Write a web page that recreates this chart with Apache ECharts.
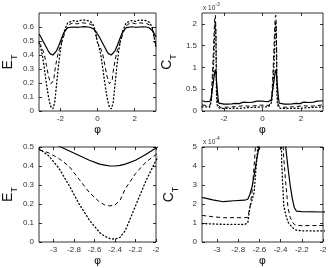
<!DOCTYPE html>
<html><head><meta charset="utf-8">
<script src="https://cdn.jsdelivr.net/npm/echarts@6/dist/echarts.min.js"></script>
<style>html,body{margin:0;padding:0;background:#fff}#c{width:332px;height:268px}</style>
</head><body><div id="c"></div>
<script>
// ---- E_T data (phi in rad) ----
const phiE = [-3.14,-3.05,-2.95,-2.85,-2.75,-2.65,-2.55,-2.50,-2.45,-2.40,-2.35,-2.30,-2.20,-2.10,-2.00,-1.90,-1.80,-1.70,-1.60,-1.50,-1.30,-1.10,-0.90,-0.70,-0.50,-0.35,-0.20,-0.10,
  0.00,0.09,0.19,0.29,0.39,0.49,0.59,0.64,0.69,0.74,0.79,0.84,0.94,1.04,1.14,1.24,1.34,1.44,1.54,1.64,1.84,2.04,2.24,2.44,2.64,2.79,2.94,3.04,3.14];
const eSolid = [.55,.53,.505,.48,.455,.43,.41,.405,.40,.40,.403,.41,.43,.46,.495,.53,.56,.58,.595,.60,.60,.598,.60,.602,.60,.595,.585,.57,
  .55,.53,.505,.48,.455,.43,.41,.405,.40,.40,.403,.41,.43,.46,.495,.53,.56,.58,.595,.60,.602,.598,.60,.601,.60,.593,.575,.555,.53];
const eDashed = [.485,.47,.44,.40,.33,.26,.21,.195,.19,.195,.22,.28,.36,.42,.46,.50,.54,.58,.605,.62,.628,.622,.632,.628,.625,.618,.60,.55,
  .485,.47,.44,.40,.33,.26,.21,.195,.19,.195,.22,.28,.36,.42,.46,.50,.54,.58,.605,.62,.63,.623,.63,.627,.624,.615,.59,.53,.46];
const eDotted = [.49,.455,.39,.30,.20,.115,.05,.03,.018,.015,.025,.06,.19,.32,.43,.51,.565,.60,.63,.64,.645,.64,.648,.65,.645,.635,.61,.56,
  .49,.455,.39,.30,.20,.115,.05,.03,.018,.015,.025,.06,.19,.32,.43,.51,.565,.60,.63,.64,.646,.64,.65,.648,.645,.632,.60,.53,.45];

// ---- C_T data (values in units of 1e-4) ----
const phiC = [-3.14,-3.04,-2.94,-2.84,-2.74,-2.71,-2.69,-2.67,-2.65,-2.63,-2.60,-2.57,-2.54,-2.51,-2.48,-2.45,-2.42,-2.39,-2.37,-2.35,-2.33,-2.31,-2.29,-2.27,-2.25,-2.20,-2.00,-1.80,-1.60,-1.40,-1.30,-1.20,-1.10,-1.00,-0.90,-0.70,-0.50,-0.30,-0.10,
  0.00,0.10,0.20,0.30,0.40,0.43,0.45,0.47,0.49,0.51,0.54,0.57,0.60,0.63,0.66,0.69,0.72,0.75,0.77,0.79,0.81,0.83,0.85,0.87,0.89,0.94,1.14,1.34,1.54,1.74,1.84,1.94,2.04,2.14,2.24,2.44,2.64,2.84,3.04,3.14];
const cSolid = [2.35,2.22,2.12,2.17,2.20,2.25,2.50,2.90,3.50,4.20,5.10,6.00,7.00,8.00,9.00,9.50,8.80,7.00,6.00,4.90,3.90,3.00,2.30,1.80,1.62,1.60,1.58,1.60,1.65,1.75,2.00,1.70,1.80,2.05,1.90,1.95,2.05,2.25,2.30,
  2.35,2.22,2.12,2.17,2.20,2.25,2.50,2.90,3.50,4.20,5.10,6.00,7.00,8.00,9.00,9.50,8.80,7.00,6.00,4.90,3.90,3.00,2.30,1.80,1.62,1.60,1.58,1.60,1.65,1.75,2.00,1.70,1.80,2.05,1.90,1.95,2.05,2.25,2.30,2.40];
const cDashed = [1.40,1.33,1.28,1.28,1.28,1.30,1.80,2.60,4.00,5.60,8.50,11.5,15.0,18.5,21.5,22.0,19.0,6.5,4.4,3.0,1.8,1.3,1.05,0.92,0.88,0.86,0.87,0.90,0.95,1.00,0.80,1.10,0.90,1.20,1.05,1.10,1.15,1.25,1.35,
  1.40,1.33,1.28,1.28,1.28,1.30,1.80,2.60,4.00,5.60,8.50,11.5,15.0,18.5,21.5,22.0,19.0,6.5,4.4,3.0,1.8,1.3,1.05,0.92,0.88,0.86,0.87,0.90,0.95,1.00,0.80,1.10,0.90,1.20,1.05,1.10,1.15,1.25,1.35,1.45];
const cDotted = [0.97,0.95,0.93,0.93,0.92,1.00,1.80,2.20,2.60,4.00,6.00,8.50,11.0,14.5,18.5,20.5,17.0,4.2,1.9,1.4,1.05,0.90,0.77,0.68,0.62,0.59,0.58,0.60,0.62,0.65,0.90,0.60,0.75,0.70,0.80,0.78,0.82,0.88,0.93,
  0.97,0.95,0.93,0.93,0.92,1.00,1.80,2.20,2.60,4.00,6.00,8.50,11.0,14.5,18.5,20.5,17.0,4.2,1.9,1.4,1.05,0.90,0.77,0.68,0.62,0.59,0.58,0.60,0.62,0.65,0.90,0.60,0.75,0.70,0.80,0.78,0.82,0.88,0.93,1.00];

// ---- ticks ----
const xTicksFull = [-2, 0, 2];
const xTicksZoom = [-3, -2.8, -2.6, -2.4, -2.2, -2];
const yTicksE = [0, 0.1, 0.2, 0.3, 0.4, 0.5, 0.6];
const yTicksEZoom = [0, 0.1, 0.2, 0.3, 0.4, 0.5];
const yTicksC = [0, 5, 10, 15, 20];
const yLabelsC = ['0', '0.5', '1', '1.5', '2'];
const yTicksCZoom = [0, 1, 2, 3, 4, 5];

const zip = (xs, ys) => xs.map((x, i) => [x, ys[i]]);
const FONT = 'Liberation Sans, Arial, sans-serif';
const fmtNum = v => String(Math.round(v * 10) / 10);

const panels = [
  {left: 32, top: 13, width: 124, height: 98, xmin: -Math.PI, xmax: Math.PI, ymin: 0, ymax: 0.7, xt: xTicksFull, yt: yTicksE, yfmt: fmtNum, name: 'E', xs: phiE, S: eSolid, D: eDashed, P: eDotted, gap: 20},
  {left: 202, top: 13, width: 121, height: 98, xmin: -Math.PI, xmax: Math.PI, ymin: 0, ymax: 22.5, xt: xTicksFull, yt: yTicksC, yfmt: v => yLabelsC[yTicksC.indexOf(v)], name: 'C', xs: phiC, S: cSolid, D: cDashed, P: cDotted, gap: 24},
  {left: 32, top: 147, width: 124, height: 98, xmin: -Math.PI, xmax: -2, ymin: 0, ymax: 0.5, xt: xTicksZoom, yt: yTicksEZoom, yfmt: fmtNum, name: 'E', xs: phiE, S: eSolid, D: eDashed, P: eDotted, gap: 20},
  {left: 202, top: 147, width: 121, height: 98, xmin: -Math.PI, xmax: -2, ymin: 0, ymax: 5, xt: xTicksZoom, yt: yTicksCZoom, yfmt: v => String(v), name: 'C', xs: phiC, S: cSolid, D: cDashed, P: cDotted, gap: 22}
];

const grid = [], xAxis = [], yAxis = [], series = [];
panels.forEach((p, i) => {
  grid.push({left: p.left, top: p.top, width: p.width, height: p.height, show: true, borderColor: '#000', borderWidth: 0.8, backgroundColor: '#fff', containLabel: false});
  const tick = vals => ({show: true, inside: true, length: 3, customValues: vals, lineStyle: {color: '#000', width: 0.8}});
  const line = {show: false, onZero: false};
  xAxis.push({type: 'value', gridIndex: i, min: p.xmin, max: p.xmax, position: 'bottom',
    axisLine: line, splitLine: {show: false}, axisTick: tick(p.xt),
    axisLabel: {show: true, customValues: p.xt, formatter: fmtNum, fontSize: 8, color: '#333', fontFamily: FONT, margin: 4},
    name: 'φ', nameLocation: 'middle', nameGap: 14, nameTextStyle: {fontSize: 11, color: '#111', fontFamily: 'DejaVu Sans'}});
  xAxis.push({type: 'value', gridIndex: i, min: p.xmin, max: p.xmax, position: 'top',
    axisLine: line, splitLine: {show: false}, axisTick: tick(p.xt), axisLabel: {show: false}});
  yAxis.push({type: 'value', gridIndex: i, min: p.ymin, max: p.ymax, position: 'left',
    axisLine: line, splitLine: {show: false}, axisTick: tick(p.yt),
    axisLabel: {show: true, customValues: p.yt, formatter: p.yfmt, fontSize: 8, color: '#333', fontFamily: FONT, margin: 5},
    name: '{a|' + p.name + '}{b|T}', nameLocation: 'middle', nameGap: p.gap, nameRotate: 90,
    nameTextStyle: {rich: {a: {fontSize: 14, color: '#111', fontFamily: FONT, verticalAlign: 'top', padding: [0, 0, 4, 0]}, b: {fontSize: 9, color: '#111', fontFamily: FONT, verticalAlign: 'bottom'}}}});
  yAxis.push({type: 'value', gridIndex: i, min: p.ymin, max: p.ymax, position: 'right',
    axisLine: line, splitLine: {show: false}, axisTick: tick(p.yt), axisLabel: {show: false}});
  const base = {type: 'line', xAxisIndex: 2 * i, yAxisIndex: 2 * i, showSymbol: false, symbol: 'none', clip: true, animation: false, silent: true};
  series.push(Object.assign({}, base, {data: zip(p.xs, p.S), lineStyle: {color: '#000', width: 1.2, type: 'solid'}}));
  series.push(Object.assign({}, base, {data: zip(p.xs, p.D), lineStyle: {color: '#000', width: 1, type: [4, 3]}}));
  series.push(Object.assign({}, base, {data: zip(p.xs, p.P), lineStyle: {color: '#000', width: 1.3, type: [1, 2.6], cap: 'round'}}));
});

const expText = (left, top, e) => ({type: 'text', left: left, top: top, silent: true,
  style: {text: '{t|x 10}{p|' + e + '}', rich: {t: {fontSize: 6.5, fill: '#333', fontFamily: FONT, verticalAlign: 'bottom', padding: [3, 0, 0, 0]}, p: {fontSize: 5, fill: '#333', fontFamily: FONT, verticalAlign: 'top'}}}});

const chart = echarts.init(document.getElementById('c'), null, {renderer: 'canvas'});
chart.setOption({
  animation: false,
  backgroundColor: '#fff',
  grid, xAxis, yAxis, series,
  graphic: [expText(203, 2, '-3'), expText(203, 136, '-4')]
});
</script></body></html>
